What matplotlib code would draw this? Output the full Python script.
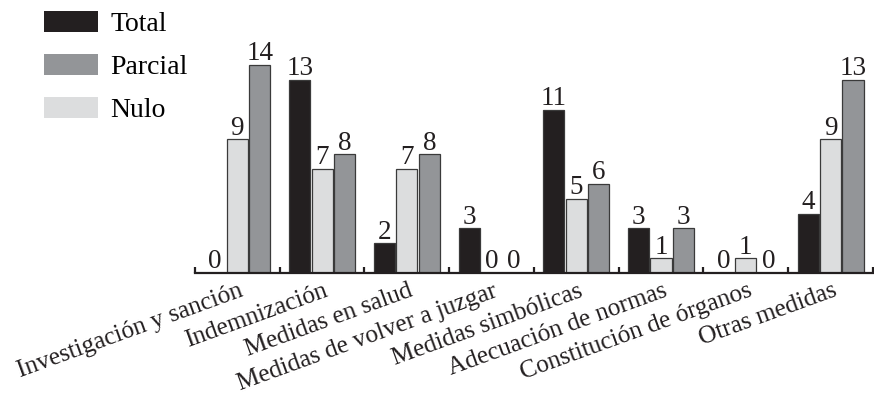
import numpy as np
import matplotlib
matplotlib.use("Agg")
import matplotlib.pyplot as plt
import matplotlib.transforms as mtransforms
from matplotlib.patches import Patch

plt.rcParams['font.family'] = ['Liberation Serif', 'DejaVu Serif']

categorias = ['Investigación y sanción', 'Indemnización', 'Medidas en salud',
              'Medidas de volver a juzgar', 'Medidas simbólicas',
              'Adecuación de normas', 'Constitución de órganos', 'Otras medidas']
total = [0, 13, 2, 3, 11, 3, 0, 4]
nulo = [9, 7, 7, 0, 5, 1, 1, 9]
parcial = [14, 8, 8, 0, 6, 3, 0, 13]

c_total = '#231f20'
c_parcial = '#939598'
c_nulo = '#dcddde'
borde = '#3a3a3a'

fig = plt.figure(figsize=(8.74, 3.93), dpi=100)
ax = fig.add_axes([0.2231, 0.3053, 0.7757, 0.6051])

x = np.arange(len(categorias))
w = 0.25
d = 0.265

for off, vals, col in [(-d, total, c_total), (0, nulo, c_nulo), (d, parcial, c_parcial)]:
    bars = ax.bar(x + off, vals, w, color=col, edgecolor=borde, linewidth=0.9)
    for b, v in zip(bars, vals):
        ax.annotate(str(v), (b.get_x() + b.get_width() / 2, v), xytext=(0, -1),
                    textcoords='offset points', ha='center', va='bottom',
                    fontsize=19.5, color='#231f20')

ax.set_xlim(-0.5, 7.5)
ax.set_ylim(0, 16)
for s in ['left', 'top', 'right']:
    ax.spines[s].set_visible(False)
ax.spines['bottom'].set_linewidth(1.6)
ax.spines['bottom'].set_color('#231f20')
ax.set_yticks([])

ax.set_xticks(x)
ax.set_xticklabels(categorias, rotation=20, ha='right', va='top', fontsize=18.2,
                   color='#231f20')
ax.tick_params(axis='x', which='major', length=0, pad=5)
ax.set_xticks(np.arange(-0.5, 8, 1), minor=True)
ax.tick_params(axis='x', which='minor', direction='in', length=4, width=1.6,
               color='#231f20')
shift = mtransforms.ScaledTranslation(9 / 100, 0, fig.dpi_scale_trans)
for lbl in ax.get_xticklabels():
    lbl.set_transform(lbl.get_transform() + shift)

handles = [Patch(facecolor=c_total, edgecolor='none'),
           Patch(facecolor=c_parcial, edgecolor='none'),
           Patch(facecolor=c_nulo, edgecolor='none')]
fig.legend(handles, ['Total', 'Parcial', 'Nulo'], loc='upper left',
           bbox_to_anchor=(0.038, 1.0), frameon=False, fontsize=20,
           handlelength=1.94, handleheight=0.8, handletextpad=0.43,
           labelspacing=0.6, borderaxespad=0)

fig.savefig('out.png', dpi=100)
